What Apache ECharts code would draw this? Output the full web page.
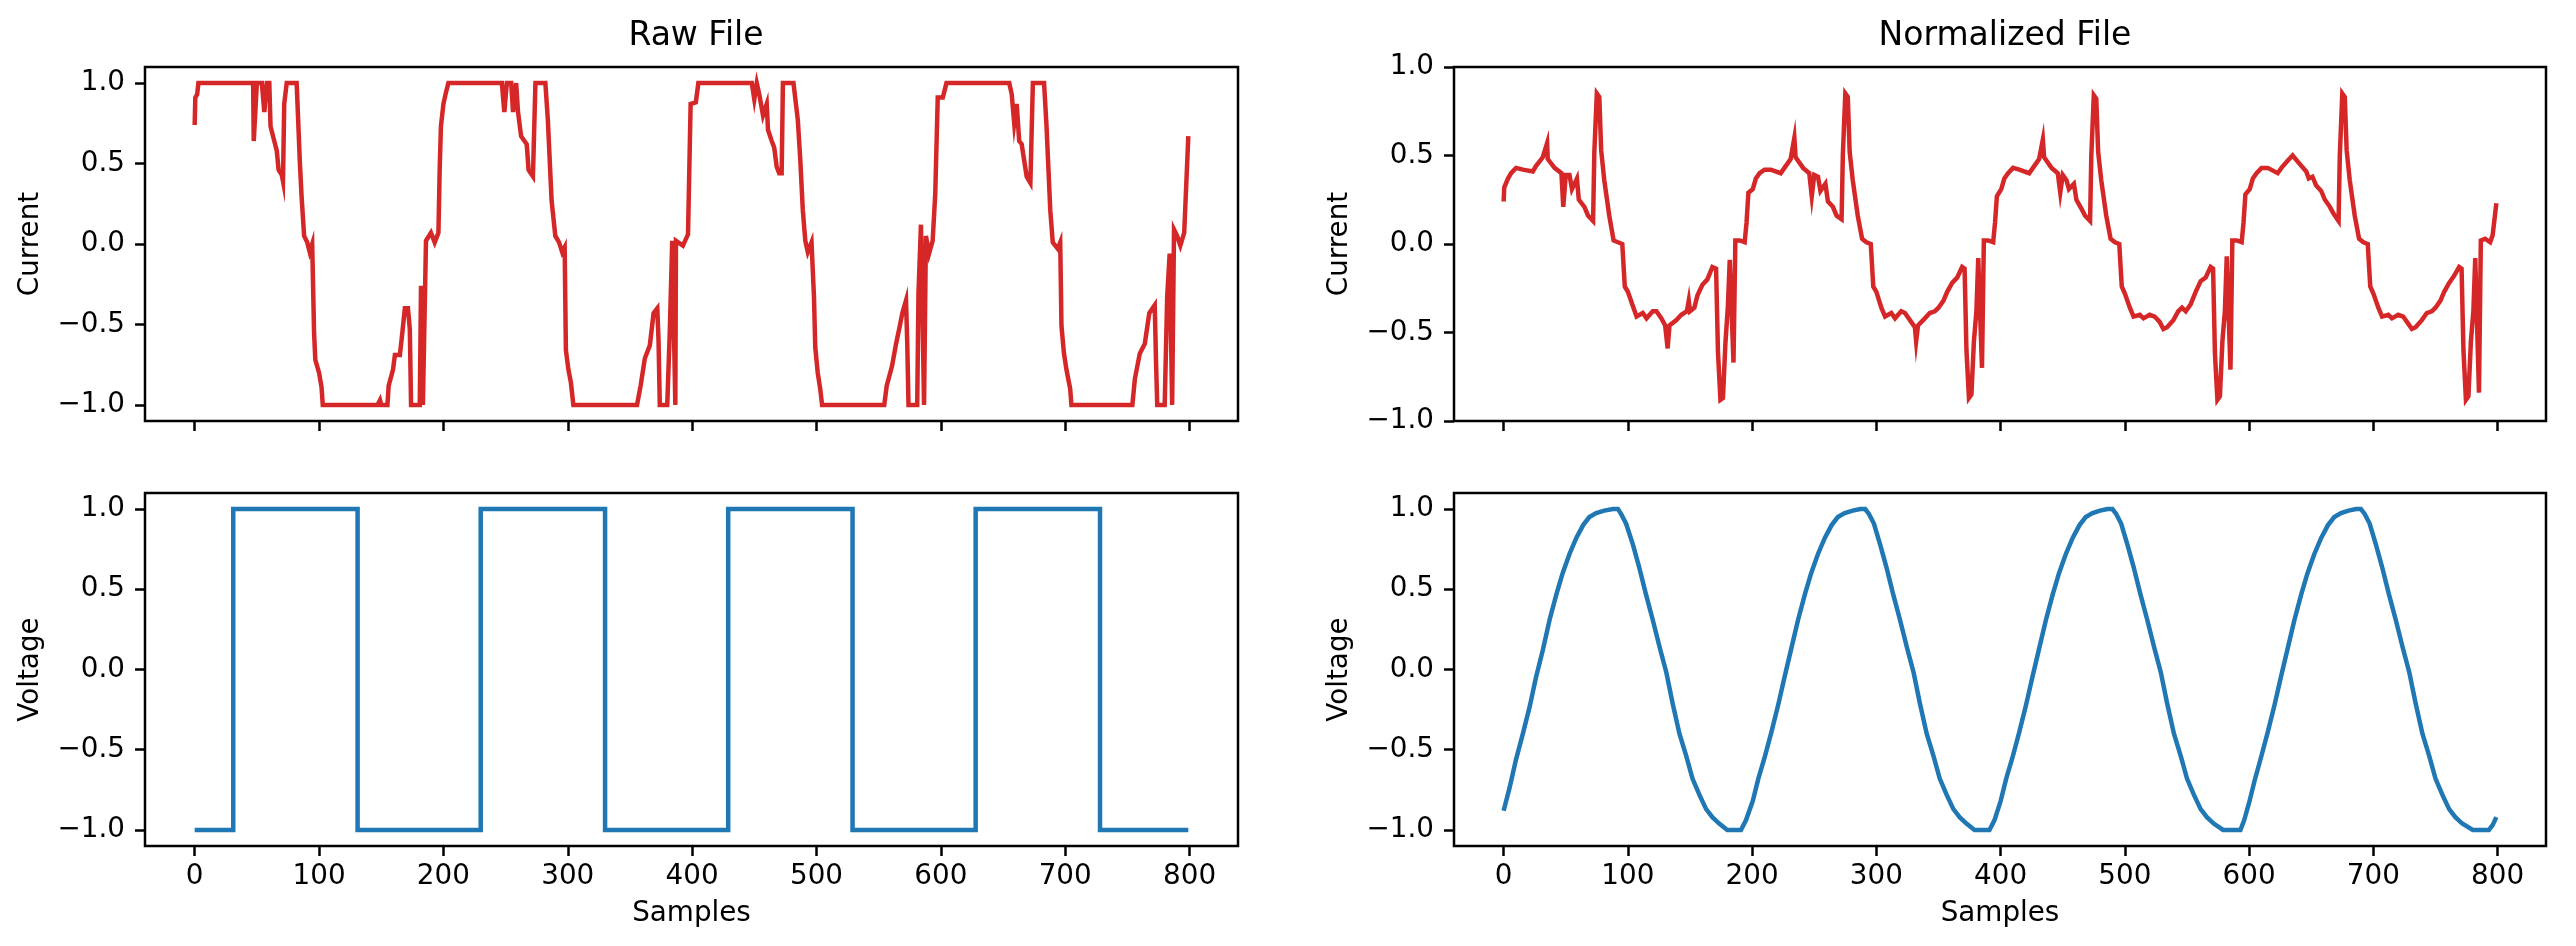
<!DOCTYPE html>
<html>
<head>
<meta charset="utf-8">
<script src="https://cdn.jsdelivr.net/npm/echarts@6/dist/echarts.min.js"></script>
<style>
  html, body { margin: 0; padding: 0; background: #fff; }
  #chart { width: 2576px; height: 946px; }
</style>
</head>
<body>
<div id="chart"></div>
<script>
// sample index ticks and value ticks
const xTicks = [0, 100, 200, 300, 400, 500, 600, 700, 800];
const yTicks = [-1, -0.5, 0, 0.5, 1];

// raw current, [sample, value]
const rawCurrent = [
  [0,0.74],[0.5,0.91],[2,0.93],[3,1.0],[47,1.0],[47.5,0.64],[49,0.64],[50,1.0],[54,1.0],[56,0.82],[58,1.0],[60,1.0],
  [61,0.73],[64,0.64],[66,0.58],[67.5,0.46],[70,0.43],[71,0.39],[72,0.87],[74,1.0],[82,1.0],[83,0.81],[84.5,0.52],
  [86,0.29],[88,0.05],[90.5,0.01],[92.5,-0.05],[94.5,0.0],[96,-0.55],[97,-0.72],[100,-0.80],[102,-0.89],[103,-1.0],
  [147,-1.0],[149,-0.97],[150,-1.0],[155,-1.0],[156,-0.88],[159.5,-0.78],[161,-0.69],[165,-0.69],[167,-0.55],
  [169,-0.40],[171.5,-0.40],[173,-0.53],[174,-1.0],[181,-1.0],[182,-0.26],[183.5,-1.0],[185,-1.0],[186,0.02],
  [190,0.07],[193,0.01],[196,0.07],[197,0.46],[198,0.73],[200,0.87],[202,0.94],[204,1.0],
  [247,1.0],[249,0.82],[251,1.0],[254.5,1.0],[256,0.82],[258.5,1.0],[260,0.82],[262.5,0.67],[267,0.62],[268.5,0.46],
  [272,0.42],[274,1.0],[282,1.0],[284,0.77],[287,0.27],[290,0.05],[293,0.01],[295.5,-0.05],[297.5,-0.02],
  [298.5,-0.66],[300.5,-0.78],[302.5,-0.86],[304.5,-1.0],[355.7,-1.0],[358.6,-0.88],[362,-0.71],[366,-0.63],
  [369,-0.43],[372,-0.40],[373,-0.60],[374,-1.0],[380,-1.0],[382,-0.55],[384,0.02],[386.5,-1.0],[387,0.02],
  [392.6,-0.01],[396.7,0.06],[398.8,0.87],[403,0.88],[405,1.0],
  [448,1.0],[450,0.90],[452,1.0],[454,0.93],[457,0.80],[460,0.87],[461,0.71],[464,0.64],[466,0.60],[468,0.48],
  [470,0.44],[472,0.44],[473,1.0],[481.5,1.0],[485,0.77],[487,0.52],[489,0.21],[491,0.02],[493,-0.05],[496,0.01],
  [498,-0.33],[499,-0.64],[501,-0.80],[503,-0.90],[504.5,-1.0],[554.5,-1.0],[556.5,-0.88],[560.7,-0.76],
  [564,-0.62],[567,-0.51],[569,-0.43],[572,-0.35],[573,-0.62],[574,-1.0],[581,-1.0],[582,-0.31],[584,0.12],
  [586.5,-1.0],[588,0.05],[590.5,-0.06],[593.4,0.02],[595.5,0.31],[597.5,0.91],[601.6,0.91],[604.5,1.0],
  [655,1.0],[657,0.93],[659,0.75],[661,0.87],[663,0.64],[665,0.62],[667,0.52],[669,0.42],[672,0.38],[674,1.0],
  [683,1.0],[685,0.73],[688,0.21],[690,0.01],[694,-0.03],[696,0.01],[697,-0.51],[699,-0.68],[701,-0.78],
  [704,-0.90],[705,-1.0],[754,-1.0],[756,-0.84],[760,-0.68],[764,-0.62],[767.6,-0.43],[772,-0.38],[773,-0.72],
  [774,-1.0],[780,-1.0],[782,-0.33],[784,-0.06],[786,-1.0],[787.5,0.09],[790,0.05],[792.6,-0.01],[795.7,0.07],
  [799,0.67]
];

// normalized current, right top panel
const normCurrent = [
  [0,0.24],[0.5,0.32],[3.5,0.37],[6,0.40],[10,0.43],[15.5,0.42],[23.5,0.41],[26,0.44],[31.5,0.49],[35,0.57],
  [35.5,0.48],[41,0.43],[46.5,0.40],[48,0.21],[50,0.39],[53,0.39],[55,0.31],[59,0.37],[60.5,0.25],[65,0.21],
  [68,0.16],[72,0.13],[73,0.52],[75,0.85],[77,0.83],[78.5,0.53],[81,0.36],[85,0.16],[88.5,0.02],[92,0.01],
  [95.5,0.0],[97.5,-0.24],[100,-0.27],[104,-0.35],[107,-0.41],[112,-0.39],[115,-0.42],[120,-0.38],[123,-0.38],
  [127,-0.42],[130,-0.46],[132,-0.59],[133.5,-0.46],[139,-0.43],[143,-0.40],[147.5,-0.38],[149,-0.32],[150,-0.38],
  [153.5,-0.36],[156,-0.29],[160,-0.23],[164,-0.20],[168,-0.13],[171,-0.14],[172.5,-0.61],[174.5,-0.88],
  [176.5,-0.87],[178.5,-0.56],[180.5,-0.35],[182,-0.09],[183.5,-0.09],[185,-0.67],[186.5,0.02],[190,0.02],
  [194,0.01],[195.5,0.12],[197,0.29],[200.5,0.31],[203,0.37],
  [206,0.40],[210,0.42],[215,0.42],[223,0.40],[226,0.43],[231,0.48],[234,0.60],[235,0.49],[241,0.43],[246,0.40],
  [248,0.27],[250,0.39],[253,0.38],[255,0.30],[259,0.34],[261,0.24],[265,0.21],[268,0.16],[272,0.14],[273,0.50],
  [275,0.85],[277,0.83],[278.5,0.52],[281,0.36],[285,0.16],[288.5,0.03],[292,0.01],[295.5,0.0],[297.5,-0.24],
  [300,-0.27],[304,-0.36],[307,-0.41],[312,-0.39],[315,-0.42],[320,-0.38],[323,-0.39],[328,-0.44],[331,-0.47],
  [332,-0.55],[333.5,-0.46],[339,-0.42],[343,-0.39],[347,-0.38],[350,-0.36],[354,-0.32],[357,-0.27],[361,-0.22],
  [365,-0.19],[369,-0.13],[371,-0.14],[372.5,-0.60],[374.5,-0.87],[376.5,-0.85],[378.5,-0.55],[380.5,-0.38],
  [382,-0.08],[383.5,-0.09],[385,-0.70],[386.5,0.02],[390,0.02],[394,0.01],[395.5,0.12],[397,0.27],[400.5,0.31],
  [403,0.37],
  [406,0.40],[410,0.43],[415,0.42],[423,0.40],[426,0.43],[431,0.48],[434,0.59],[435,0.49],[441,0.43],[446,0.40],
  [448,0.29],[450,0.39],[453,0.36],[455,0.31],[459,0.34],[461,0.25],[465,0.20],[468,0.16],[472,0.13],[473,0.50],
  [475,0.84],[477,0.82],[478.5,0.52],[481,0.36],[485,0.16],[488.5,0.03],[492,0.01],[495.5,0.0],[497.5,-0.24],
  [500,-0.28],[504,-0.36],[507,-0.41],[512,-0.40],[515,-0.42],[520,-0.40],[524,-0.41],[528,-0.44],[531,-0.48],
  [534,-0.47],[539,-0.43],[543,-0.38],[546,-0.36],[549,-0.38],[553,-0.34],[557,-0.27],[561,-0.21],[565,-0.19],
  [569,-0.13],[571,-0.14],[572.5,-0.62],[574.5,-0.88],[576.5,-0.86],[578.5,-0.55],[580.5,-0.38],[582,-0.07],
  [583.5,-0.08],[585,-0.71],[586.5,0.02],[590,0.02],[594,0.01],[595.5,0.12],[597,0.28],[600.5,0.31],[603,0.37],
  [606,0.40],[610,0.43],[615,0.43],[623,0.40],[626,0.43],[631,0.47],[635,0.50],[641,0.45],[646,0.41],[648,0.37],
  [651,0.38],[654,0.33],[658,0.30],[661,0.25],[665,0.21],[668,0.17],[672,0.13],[673,0.50],[675,0.85],[677,0.83],
  [678.5,0.53],[681,0.36],[685,0.16],[688.5,0.03],[692,0.01],[695.5,0.0],[697.5,-0.24],[700,-0.28],[704,-0.36],
  [707,-0.41],[712,-0.40],[715,-0.42],[720,-0.40],[724,-0.41],[728,-0.45],[731,-0.48],[734,-0.47],[739,-0.43],
  [743,-0.39],[747,-0.38],[750,-0.36],[754,-0.32],[757,-0.27],[761,-0.22],[765,-0.18],[769,-0.13],[771,-0.14],
  [772.5,-0.60],[774.5,-0.88],[776.5,-0.86],[778.5,-0.55],[780.5,-0.38],[782,-0.08],[783.5,-0.09],[785,-0.84],
  [786.5,0.02],[790,0.03],[794,0.01],[796,0.05],[799,0.23]
];

// raw voltage, square wave edges
const rawVoltage = [
  [0,-1],[31,-1],[31,1],[131,1],[131,-1],[230,-1],[230,1],[330,1],[330,-1],[429,-1],[429,1],
  [529,1],[529,-1],[628,-1],[628,1],[728,1],[728,-1],[799,-1]
];

// normalized voltage, right bottom panel
const normVoltage = [
  [0,-0.88],[5,-0.73],[10,-0.56],[15.5,-0.40],[21,-0.23],[26,-0.05],[31.5,0.12],[37,0.31],[42.5,0.47],[47.5,0.60],
  [53,0.72],[58.5,0.82],[64,0.90],[69,0.95],[74.5,0.975],[81,0.99],[88,1.0],[92,1.0],[94.5,0.97],[98.5,0.91],
  [104,0.78],[109,0.64],[114.5,0.47],[120,0.31],[125.5,0.14],[131,-0.02],[136,-0.21],[141.5,-0.40],[147,-0.54],
  [152,-0.68],[157.5,-0.78],[163,-0.87],[168,-0.92],[173.5,-0.96],[180,-1.0],[191,-1.0],[195,-0.94],[200.5,-0.82],
  [205,-0.68],[210,-0.55],[215.5,-0.39],[221,-0.22],[226,-0.05],[231.5,0.13],[237,0.31],[242.5,0.47],[247.5,0.60],
  [253,0.72],[258.5,0.82],[264,0.90],[269,0.95],[274.5,0.975],[281,0.99],[287,1.0],[291,1.0],[294,0.97],[298,0.91],
  [303,0.78],[308,0.64],[313.5,0.47],[319,0.31],[324.5,0.14],[330,-0.02],[335,-0.21],[340.5,-0.40],[346,-0.54],
  [351,-0.68],[356.5,-0.78],[362,-0.87],[367,-0.92],[372.5,-0.96],[379,-1.0],[391,-1.0],[395,-0.94],[400,-0.82],
  [404.5,-0.68],[409.5,-0.55],[415,-0.39],[420.5,-0.22],[425.5,-0.05],[431,0.13],[436.5,0.31],[442,0.47],
  [447,0.60],[452.5,0.72],[458,0.82],[463.5,0.90],[468.5,0.95],[474,0.975],[480,0.99],[486,1.0],[490,1.0],
  [493,0.97],[497,0.91],[502,0.78],[507,0.64],[512.5,0.47],[518,0.31],[523.5,0.14],[529,-0.02],[534,-0.21],
  [539.5,-0.40],[545,-0.54],[550,-0.68],[555.5,-0.78],[561,-0.87],[566,-0.92],[571.5,-0.96],[579,-1.0],[593,-1.0],
  [596,-0.94],[600,-0.83],[604.5,-0.69],[609.5,-0.55],[615,-0.39],[620.5,-0.22],[625.5,-0.05],[631,0.13],
  [636.5,0.31],[642,0.47],[647,0.60],[652.5,0.72],[658,0.82],[663.5,0.90],[668.5,0.95],[674,0.975],[680,0.99],
  [686,1.0],[690,1.0],[693,0.97],[697,0.91],[702,0.78],[707,0.64],[712.5,0.47],[718,0.31],[723.5,0.14],[729,-0.02],
  [734,-0.21],[739.5,-0.40],[745,-0.54],[750,-0.68],[755.5,-0.78],[761,-0.87],[766,-0.92],[771.5,-0.96],[780,-1.0],
  [793,-1.0],[796,-0.97],[799,-0.92]
];

const FONT = 'DejaVu Sans';
const RED = '#d62728';
const BLUE = '#1f77b4';

const fmtY = v => (v < 0 ? '\u2212' : '') + Math.abs(v).toFixed(1);

const grids = [
  { left: 145, top: 67, width: 1093, height: 354 },
  { left: 1454, top: 67, width: 1092, height: 354 },
  { left: 145, top: 493, width: 1093, height: 353 },
  { left: 1454, top: 493, width: 1092, height: 353 }
].map(g => Object.assign(g, { show: true, borderColor: '#000', borderWidth: 2.5, backgroundColor: '#fff' }));

function xAxisFor(i, showLabels) {
  return {
    type: 'value', gridIndex: i, min: -39.95, max: 838.95,
    splitLine: { show: false }, axisLine: { show: false, onZero: false },
    axisTick: { show: true, length: 10, lineStyle: { color: '#000', width: 2.5 }, customValues: xTicks },
    axisLabel: { show: showLabels, customValues: xTicks, margin: 17, color: '#000', fontFamily: FONT, fontSize: 27.8 },
    name: showLabels ? 'Samples' : '', nameLocation: 'middle', nameGap: 54,
    nameTextStyle: { color: '#000', fontFamily: FONT, fontSize: 27.8 }
  };
}

function yAxisFor(i, name, lim) {
  return {
    type: 'value', gridIndex: i, min: -lim, max: lim,
    splitLine: { show: false }, axisLine: { show: false, onZero: false },
    axisTick: { show: true, length: 10, lineStyle: { color: '#000', width: 2.5 }, customValues: yTicks },
    axisLabel: { customValues: yTicks, formatter: fmtY, margin: 20, color: '#000', fontFamily: FONT, fontSize: 27.8 },
    name: name, nameLocation: 'middle', nameGap: 100,
    nameTextStyle: { color: '#000', fontFamily: FONT, fontSize: 27.8 }
  };
}

function lineSeries(i, data, color) {
  return {
    type: 'line', xAxisIndex: i, yAxisIndex: i, data: data,
    showSymbol: false, symbol: 'none', silent: true,
    lineStyle: { color: color, width: 4.5, join: 'miter' }
  };
}

const chart = echarts.init(document.getElementById('chart'), null, { renderer: 'canvas' });
chart.setOption({
  animation: false,
  backgroundColor: '#fff',
  title: [
    { text: 'Raw File', left: 691, top: 15, textAlign: 'center',
      textStyle: { color: '#000', fontFamily: FONT, fontSize: 33, fontWeight: 'normal' } },
    { text: 'Normalized File', left: 2000, top: 15, textAlign: 'center',
      textStyle: { color: '#000', fontFamily: FONT, fontSize: 33, fontWeight: 'normal' } }
  ],
  grid: grids,
  xAxis: [xAxisFor(0, false), xAxisFor(1, false), xAxisFor(2, true), xAxisFor(3, true)],
  yAxis: [yAxisFor(0, 'Current', 1.1), yAxisFor(1, 'Current', 1.0), yAxisFor(2, 'Voltage', 1.1), yAxisFor(3, 'Voltage', 1.1)],
  series: [
    lineSeries(0, rawCurrent, RED),
    lineSeries(1, normCurrent, RED),
    lineSeries(2, rawVoltage, BLUE),
    lineSeries(3, normVoltage, BLUE)
  ]
});
</script>
</body>
</html>
